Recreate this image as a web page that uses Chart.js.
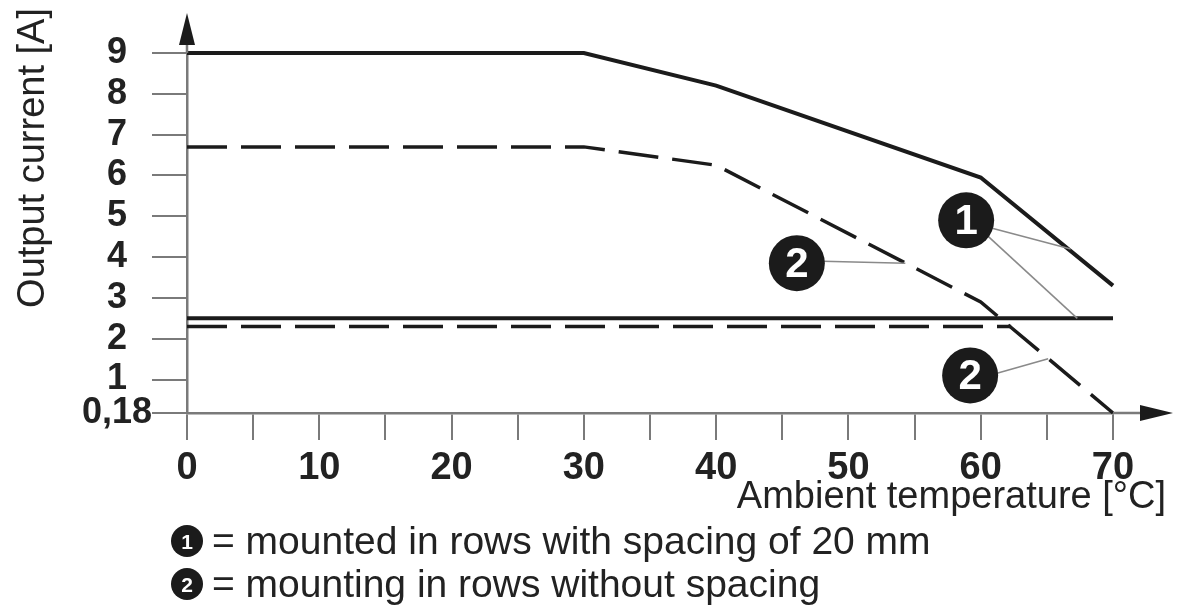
<!DOCTYPE html>
<html>
<head>
<meta charset="utf-8">
<script src="https://cdn.jsdelivr.net/npm/chart.js@4.4.1/dist/chart.umd.min.js"></script>
<style>
  html, body { margin: 0; padding: 0; background: #fff; }
</style>
</head>
<body>
<canvas id="grafica" width="1185" height="609"></canvas>
<script>
const temps = [0, 30, 40, 60, 70];
const corrienteCon20mm = [9, 9, 8.2, 5.95, 3.3];
const corrienteSinEspacio = [6.7, 6.7, 6.25, 2.9, 0.18];
const tempsLimiteSolido = [0, 70];
const limiteSolido = [2.5, 2.5];
const tempsLimiteDiscontinuo = [0, 62.3];
const limiteDiscontinuo = [2.3, 2.3];
const ticksY = [0.18, 1, 2, 3, 4, 5, 6, 7, 8, 9];
const ticksX = [0, 10, 20, 30, 40, 50, 60, 70];
const leyenda = ["= mounted in rows with spacing of 20 mm", "= mounting in rows without spacing"];

const FUENTE = "'Liberation Sans', Arial, sans-serif";
const GRIS = "#7a7a7a";
const NEGRO = "#1b1b1b";

const puntos = (xs, ys) => xs.map((x, i) => ({ x: x, y: ys[i] }));

function circulo(ctx, x, y, r, texto, size) {
    ctx.save();
    ctx.fillStyle = NEGRO;
    ctx.beginPath();
    ctx.arc(x, y, r, 0, Math.PI * 2);
    ctx.fill();
    ctx.fillStyle = "#fff";
    ctx.font = "bold " + size + "px " + FUENTE;
    ctx.textAlign = "center";
    ctx.textBaseline = "middle";
    ctx.fillText(texto, x, y + 2);
    ctx.restore();
}

function linea(ctx, x1, y1, x2, y2) {
    ctx.save();
    ctx.strokeStyle = "#8a8a8a";
    ctx.lineWidth = 1.6;
    ctx.beginPath();
    ctx.moveTo(x1, y1);
    ctx.lineTo(x2, y2);
    ctx.stroke();
    ctx.restore();
}

const extras = {
    id: "extras",
    afterDraw(chart) {
        const ctx = chart.ctx;
        const xs = chart.scales.x, ys = chart.scales.y;
        const px = v => xs.getPixelForValue(v);
        const py = v => ys.getPixelForValue(v);
        const area = chart.chartArea;

        // flechas de los ejes
        ctx.save();
        ctx.strokeStyle = GRIS;
        ctx.lineWidth = 2.5;
        ctx.beginPath();
        ctx.moveTo(area.left, area.top);
        ctx.lineTo(area.left, area.top - 10);
        ctx.moveTo(area.right, area.bottom);
        ctx.lineTo(area.right + 30, area.bottom);
        ctx.stroke();
        ctx.fillStyle = NEGRO;
        ctx.beginPath();
        ctx.moveTo(area.left, area.top - 40);
        ctx.lineTo(area.left - 8, area.top - 8);
        ctx.lineTo(area.left + 8, area.top - 8);
        ctx.closePath();
        ctx.fill();
        ctx.beginPath();
        ctx.moveTo(area.right + 60, area.bottom);
        ctx.lineTo(area.right + 27, area.bottom - 8);
        ctx.lineTo(area.right + 27, area.bottom + 8);
        ctx.closePath();
        ctx.fill();
        ctx.restore();

        // titulos de los ejes
        ctx.save();
        ctx.fillStyle = "#222";
        ctx.font = "38px " + FUENTE;
        ctx.textAlign = "right";
        ctx.textBaseline = "alphabetic";
        ctx.fillText("Ambient temperature [°C]", 1166, 508, 432);
        ctx.translate(44, 8);
        ctx.rotate(-Math.PI / 2);
        ctx.textAlign = "right";
        ctx.fillText("Output current [A]", 0, 0, 312);
        ctx.restore();

        // marcas numeradas
        linea(ctx, px(58.9) + 26, py(4.9) + 8, px(66.8), py(4.2));
        linea(ctx, px(58.9) + 22, py(4.9) + 16, px(67.3), py(2.5));
        linea(ctx, px(46.1) + 26, py(3.85) - 2, px(54.3), py(3.85));
        linea(ctx, px(59.2) + 26, py(1.1) - 2, px(65.1), py(1.51));
        circulo(ctx, px(58.9), py(4.9), 28, "1", 42);
        circulo(ctx, px(46.1), py(3.85), 28, "2", 42);
        circulo(ctx, px(59.2), py(1.1), 28, "2", 42);

        // leyenda
        circulo(ctx, 187, 541, 16, "1", 21);
        circulo(ctx, 187, 584, 16, "2", 21);
        ctx.save();
        ctx.fillStyle = "#222";
        ctx.font = "39px " + FUENTE;
        ctx.textAlign = "left";
        ctx.textBaseline = "alphabetic";
        ctx.fillText(leyenda[0], 212, 554);
        ctx.fillText(leyenda[1], 212, 597);
        ctx.restore();
    }
};

new Chart(document.getElementById("grafica").getContext("2d"), {
    type: "scatter",
    data: {
        datasets: [
            { data: puntos(temps, corrienteCon20mm), borderColor: NEGRO, borderWidth: 4 },
            { data: puntos(temps, corrienteSinEspacio), borderColor: NEGRO, borderWidth: 3.5, borderDash: [40, 14] },
            { data: puntos(tempsLimiteSolido, limiteSolido), borderColor: NEGRO, borderWidth: 4 },
            { data: puntos(tempsLimiteDiscontinuo, limiteDiscontinuo), borderColor: NEGRO, borderWidth: 3.5, borderDash: [40, 14] }
        ].map(d => Object.assign(d, { showLine: true, pointRadius: 0, fill: false, tension: 0, clip: 10 }))
    },
    options: {
        responsive: false,
        animation: false,
        devicePixelRatio: 1,
        layout: { padding: { top: 53, right: 72, left: 0, bottom: 0 } },
        plugins: { legend: { display: false }, tooltip: { enabled: false } },
        scales: {
            x: {
                type: "linear",
                min: 0,
                max: 70,
                afterFit: s => { s.height = 196; },
                border: { display: true, color: GRIS, width: 2.5 },
                grid: { drawOnChartArea: false, drawTicks: true, tickLength: 27, color: GRIS, lineWidth: 2 },
                ticks: {
                    stepSize: 5,
                    autoSkip: false,
                    maxRotation: 0,
                    padding: 6,
                    color: "#222",
                    font: { family: FUENTE, size: 38, weight: "bold" },
                    callback: v => ticksX.includes(v) ? String(v) : ""
                }
            },
            y: {
                type: "linear",
                min: 0.18,
                max: 9,
                afterFit: s => { s.width = 187; },
                afterBuildTicks: s => { s.ticks = ticksY.map(v => ({ value: v })); },
                border: { display: true, color: GRIS, width: 2.5 },
                grid: { drawOnChartArea: false, drawTicks: true, tickLength: 35, color: GRIS, lineWidth: 2 },
                ticks: {
                    autoSkip: false,
                    padding: 0,
                    crossAlign: "center",
                    color: "#222",
                    font: { family: FUENTE, size: 36, weight: "bold" },
                    callback: v => v === 0.18 ? "0,18" : String(v)
                }
            }
        }
    },
    plugins: [extras]
});
</script>
</body>
</html>
